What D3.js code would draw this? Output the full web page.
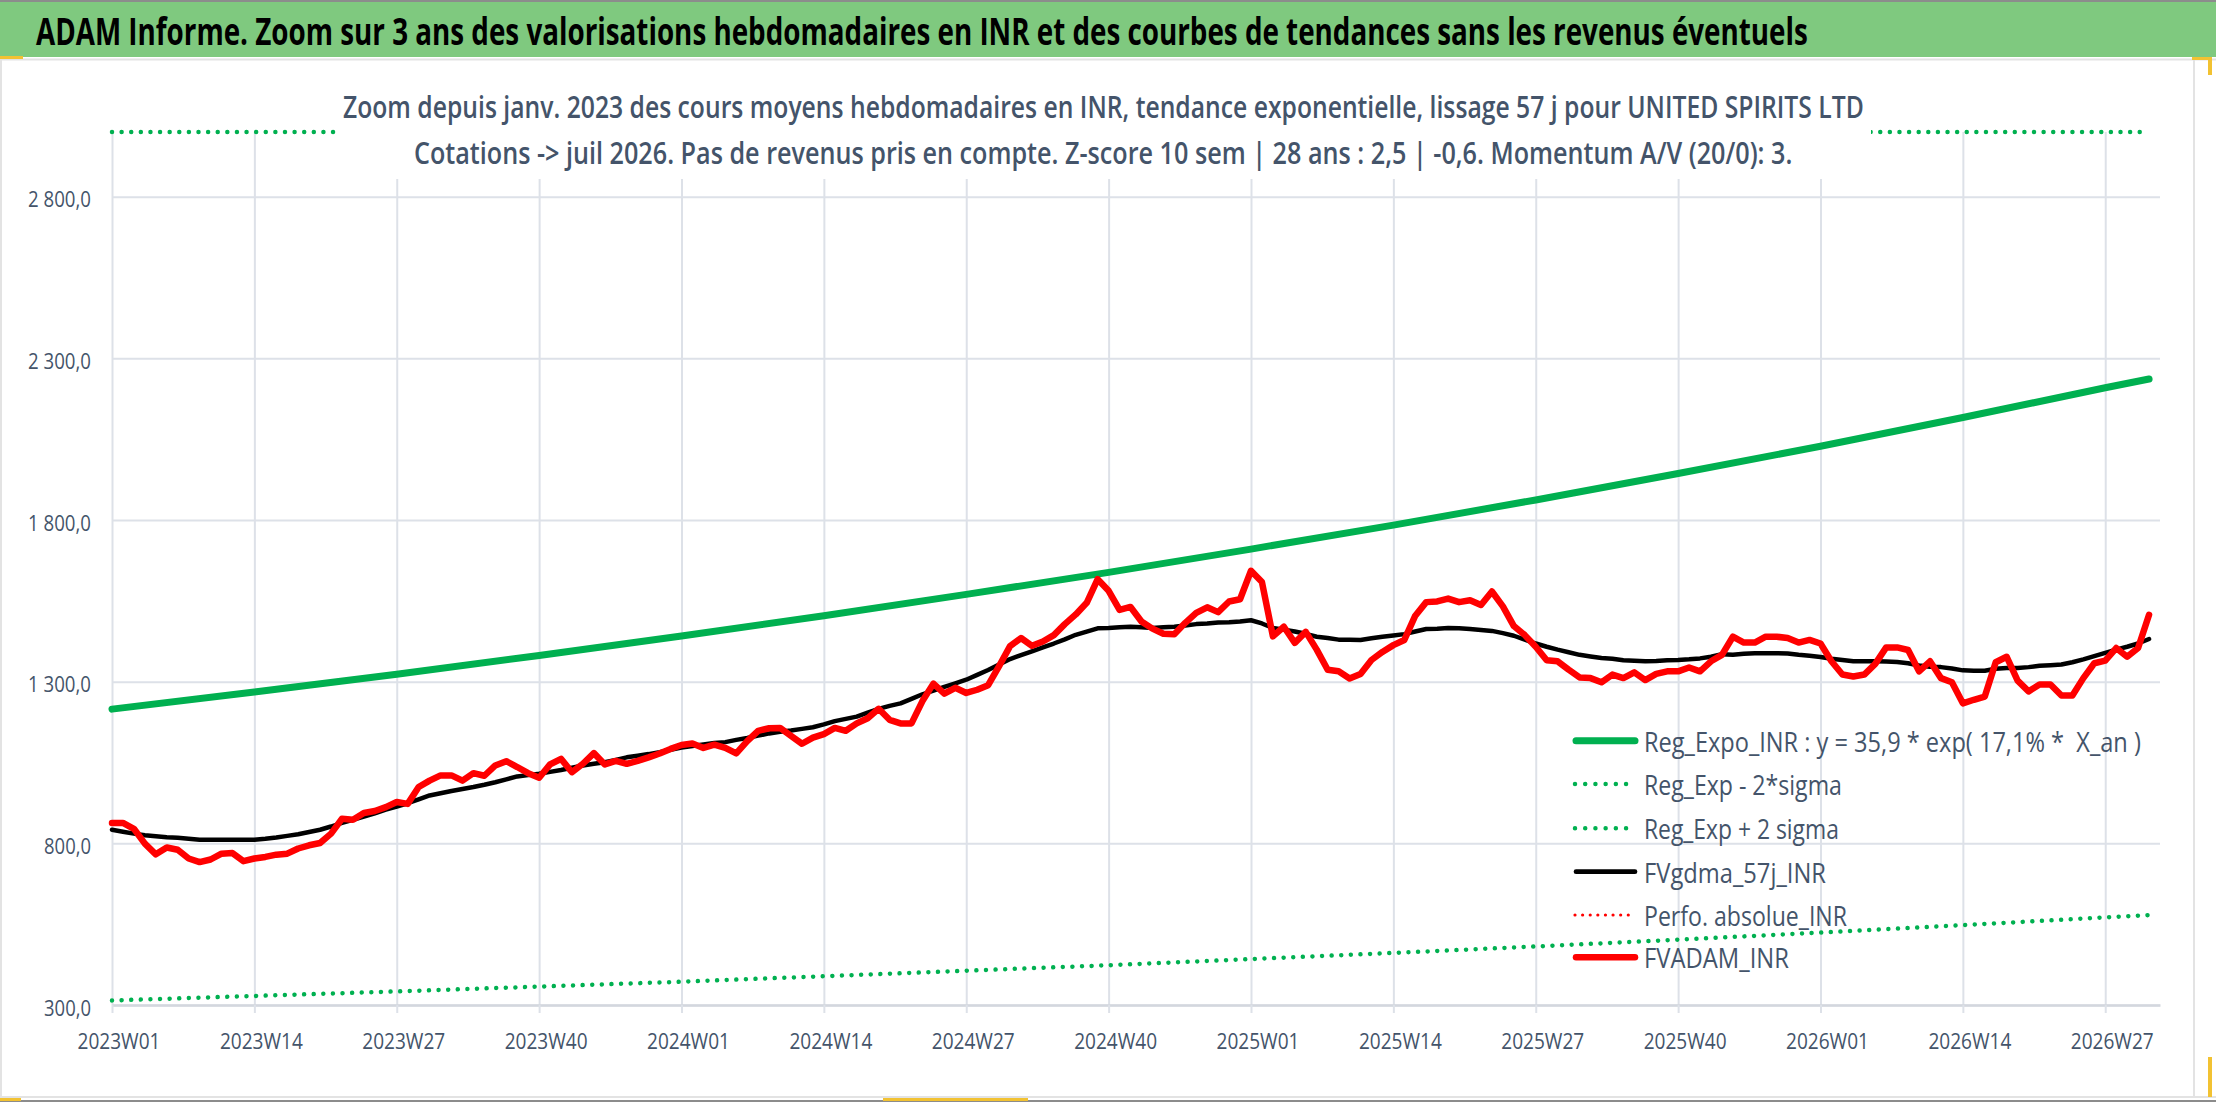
<!DOCTYPE html>
<html>
<head>
<meta charset="utf-8">
<script src="https://cdn.jsdelivr.net/npm/d3@7"></script>
<style>
  body { margin: 0; background: #fff; }
  text { white-space: pre; }
</style>
</head>
<body>
<svg id="chart" width="2216" height="1102"></svg>
<script>
// weekly categories : 2023W01 .. 2026W32
const years = [2023, 2024, 2025, 2026]
const weeksInYear = [52, 52, 52, 32]
const tickLabels = ['2023W01', '2023W14', '2023W27', '2023W40', '2024W01', '2024W14', '2024W27', '2024W40',
  '2025W01', '2025W14', '2025W27', '2025W40', '2026W01', '2026W14', '2026W27']
const yTicks = [300, 800, 1300, 1800, 2300, 2800]

// FVADAM_INR (red), one value per week from 2023W01
const fvadam = [
  863, 863, 845, 799, 766, 787, 780, 753, 742, 750, 768, 770, 745, 753, 758, 765,
  768, 784, 794, 801, 830, 876, 873, 894, 900, 912, 928, 922, 974, 994, 1010, 1010,
  994, 1017, 1009, 1041, 1054, 1036, 1017, 1003, 1044, 1061, 1020, 1046, 1079, 1044, 1055, 1046,
  1055, 1066, 1078, 1092, 1104, 1109, 1095, 1105, 1095, 1078, 1116, 1148, 1156, 1157, 1132, 1108,
  1127, 1138, 1157, 1148, 1171, 1187, 1216, 1182, 1171, 1171, 1240, 1294, 1263, 1281, 1265, 1275,
  1289, 1348, 1410, 1435, 1411, 1424, 1444, 1478, 1508, 1544, 1617, 1581, 1522, 1531, 1486, 1464,
  1448, 1447, 1482, 1513, 1530, 1515, 1548, 1555, 1643, 1608, 1440, 1470, 1420, 1454, 1399, 1337,
  1332, 1310, 1324, 1367, 1392, 1413, 1429, 1504, 1546, 1548, 1557, 1546, 1552, 1537, 1579, 1533,
  1472, 1444, 1408, 1366, 1363, 1337, 1313, 1311, 1298, 1322, 1311, 1329, 1305, 1324, 1332, 1332,
  1344, 1332, 1363, 1383, 1439, 1421, 1421, 1439, 1439, 1435, 1421, 1429, 1418, 1363, 1322, 1316,
  1322, 1355, 1406, 1406, 1398, 1332, 1363, 1311, 1298, 1233, 1244, 1254, 1360, 1377, 1303, 1270,
  1291, 1291, 1257, 1257, 1311, 1357, 1365, 1404, 1377, 1404, 1507
]

// FVgdma_57j_INR (black)
const fvgdma = [
  842, 836, 830, 825, 822, 819, 817, 814, 811, 811, 811, 811, 811, 811, 814, 818,
  823, 828, 835, 842, 852, 863, 873, 883, 893, 904, 914, 924, 936, 948, 955, 962,
  968, 974, 981, 989, 998, 1007, 1011, 1015, 1021, 1027, 1034, 1041, 1046, 1051, 1058, 1066,
  1071, 1076, 1082, 1089, 1096, 1101, 1106, 1110, 1113, 1120, 1126, 1133, 1140, 1145, 1149, 1154,
  1159, 1168, 1178, 1185, 1192, 1204, 1216, 1225, 1233, 1247, 1261, 1272, 1284, 1295, 1306, 1321,
  1336, 1353, 1370, 1382, 1394, 1406, 1418, 1431, 1445, 1455, 1465, 1466, 1468, 1470, 1468, 1466,
  1468, 1470, 1474, 1478, 1480, 1483, 1484, 1486, 1490, 1480, 1466, 1461, 1455, 1448, 1439, 1435,
  1430, 1430, 1429, 1434, 1439, 1443, 1447, 1455, 1463, 1464, 1466, 1465, 1463, 1460, 1457, 1450,
  1442, 1430, 1418, 1408, 1399, 1391, 1383, 1378, 1373, 1371, 1366, 1365, 1363, 1364, 1366, 1367,
  1369, 1372, 1377, 1385, 1383, 1386, 1388, 1388, 1388, 1387, 1383, 1380, 1376, 1371, 1367, 1363,
  1363, 1363, 1362, 1361, 1357, 1350, 1346, 1345, 1341, 1335, 1334, 1334, 1340, 1342, 1342, 1345,
  1349, 1351, 1353, 1360, 1369, 1379, 1389, 1399, 1408, 1418, 1432
]

// regression curves read at the labelled weeks (and the last week)
const regWeeks = [0, 13, 26, 39, 52, 65, 78, 91, 104, 117, 130, 143, 156, 169, 182, 186]
const regExpo = [1215, 1268, 1323, 1381, 1441, 1504, 1570, 1638, 1710, 1784, 1862, 1944, 2028, 2117, 2209, 2236]
const regMinus2 = [314, 328, 342, 357, 372, 389, 406, 423, 442, 461, 481, 502, 524, 547, 571, 578]
const regPlus2 = [4700, 4905, 5118, 5342, 5574, 5818, 6073, 6337, 6615, 6901, 7203, 7520, 7845, 8190, 8545, 8650]
const perfoAbs = []

const legendNames = ['Reg_Expo_INR : y = 35,9 * exp( 17,1% *  X_an )', 'Reg_Exp - 2*sigma', 'Reg_Exp + 2 sigma',
  'FVgdma_57j_INR', 'Perfo. absolue_INR', 'FVADAM_INR']

const title = 'ADAM Informe. Zoom sur 3 ans des valorisations hebdomadaires en INR et des courbes de tendances sans les revenus éventuels'
const sub1 = 'Zoom depuis janv. 2023 des cours moyens hebdomadaires en INR, tendance exponentielle, lissage 57 j pour UNITED SPIRITS LTD'
const sub2 = 'Cotations -> juil 2026. Pas de revenus pris en compte. Z-score 10 sem | 28 ans : 2,5 | -0,6. Momentum A/V (20/0): 3.'

const FONT = "'Open Sans', 'DejaVu Sans', sans-serif"
const TXT = '#44546A'
const GRID = '#DDE1E8'
const GREEN = '#00B050'

let categories = []
years.forEach((yr, i) => {
  for (let w = 1; w <= weeksInYear[i]; w++) categories.push(yr + 'W' + String(w).padStart(2, '0'))
})

// squeeze a text to a given width, font-size already set from the cap height
const fit = (sel, width) => sel.each(function (d, i) {
  const t = d3.select(this)
  const w = typeof width === 'function' ? width(d, i) : width
  const x0 = +t.attr('x') || 0
  const y0 = +t.attr('y') || 0
  const sx = w / this.getComputedTextLength()
  t.attr('x', 0).attr('y', 0).attr('transform', `translate(${x0},${y0}) scale(${sx},1)`)
})

const svg = d3.select('#chart')
const x = d3.scalePoint().domain(categories).range([112, 2160])
const y = d3.scaleLinear().domain([300, 3000]).range([1005, 132])
const fr = d3.formatLocale({ decimal: ',', thousands: ' ', grouping: [3], currency: ['', ''] })
const yFmt = fr.format(',.1f')

// frame
svg.append('rect').attr('width', 2216).attr('height', 1102).attr('fill', '#fff')
svg.append('rect').attr('x', 0).attr('y', 0).attr('width', 2216).attr('height', 57).attr('fill', '#7FC97F')
svg.append('line').attr('x1', 0).attr('x2', 2216).attr('y1', 1).attr('y2', 1).attr('stroke', '#8C8C8C').attr('stroke-width', 2)
svg.append('line').attr('x1', 0).attr('x2', 2216).attr('y1', 59.5).attr('y2', 59.5).attr('stroke', '#E3E3E3').attr('stroke-width', 2)
svg.append('line').attr('x1', 1).attr('x2', 1).attr('y1', 57).attr('y2', 1097).attr('stroke', '#E3E3E3').attr('stroke-width', 2)
svg.append('line').attr('x1', 2194).attr('x2', 2194).attr('y1', 60).attr('y2', 1097).attr('stroke', '#E3E3E3').attr('stroke-width', 2)
svg.append('line').attr('x1', 0).attr('x2', 2216).attr('y1', 1097).attr('y2', 1097).attr('stroke', '#E3E3E3').attr('stroke-width', 2)
svg.append('line').attr('x1', 0).attr('x2', 2216).attr('y1', 1101).attr('y2', 1101).attr('stroke', '#8C8C8C').attr('stroke-width', 2)
const handles = [[0, 56, 23, 3], [2192, 57, 20, 3], [2208, 57, 4, 18], [2208, 1057, 4, 40], [0, 1098, 21, 3], [883, 1098, 145, 3]]
svg.selectAll('.handle').data(handles).join('rect').attr('class', 'handle')
  .attr('x', d => d[0]).attr('y', d => d[1]).attr('width', d => d[2]).attr('height', d => d[3]).attr('fill', '#F2C232')

// gridlines
svg.append('g').attr('transform', 'translate(112,0)')
  .call(d3.axisLeft(y).tickValues(yTicks).tickSize(-(2160 - 112)).tickFormat(''))
  .call(g => g.select('.domain').remove())
  .call(g => g.selectAll('line').attr('stroke', GRID).attr('stroke-width', 2))
svg.append('g').attr('transform', 'translate(0,1005)')
  .call(d3.axisBottom(x).tickValues(tickLabels).tickSize(-(1005 - 132)).tickFormat(''))
  .call(g => g.select('.domain').remove())
  .call(g => g.selectAll('line').attr('stroke', GRID).attr('stroke-width', 2))

// x axis : tick marks and labels
svg.append('g').attr('transform', 'translate(0,1005)')
  .call(d3.axisBottom(x).tickValues(tickLabels).tickSizeInner(8).tickSizeOuter(0))
  .call(g => g.select('.domain').attr('stroke', '#D3D7DE').attr('stroke-width', 2.5))
  .call(g => g.selectAll('line').attr('stroke', GRID).attr('stroke-width', 2))
  .call(g => g.selectAll('text').attr('dy', null).attr('y', 44).attr('x', 6.5)
    .attr('font-family', FONT).attr('font-size', 22.5).attr('fill', TXT)
    .call(fit, 83))

// y axis labels
svg.append('g').attr('transform', 'translate(112,0)')
  .call(d3.axisLeft(y).tickValues(yTicks).tickSize(0).tickPadding(21).tickFormat(yFmt))
  .call(g => g.select('.domain').remove())
  .call(g => g.selectAll('text').attr('dy', null).attr('y', 10)
    .attr('font-family', FONT).attr('font-size', 22.5).attr('fill', TXT)
    .call(fit, d => d >= 1000 ? 63 : 47))

// series
const weekLine = d3.line().x((d, i) => x(categories[i])).y(d => y(d))
const regLine = d3.line().x((d, i) => x(categories[regWeeks[i]])).y(d => y(Math.min(d, 3000)))

svg.append('path').datum(regExpo).attr('d', regLine)
  .attr('fill', 'none').attr('stroke', GREEN).attr('stroke-width', 7).attr('stroke-linecap', 'round')
svg.append('path').datum(regMinus2).attr('d', regLine)
  .attr('fill', 'none').attr('stroke', GREEN).attr('stroke-width', 4.5)
  .attr('stroke-dasharray', '0.01 9.6').attr('stroke-linecap', 'round')
svg.append('path').datum(regPlus2).attr('d', regLine)
  .attr('fill', 'none').attr('stroke', GREEN).attr('stroke-width', 4.5)
  .attr('stroke-dasharray', '0.01 9.6').attr('stroke-linecap', 'round')
svg.append('path').datum(fvgdma).attr('d', weekLine)
  .attr('fill', 'none').attr('stroke', '#000').attr('stroke-width', 4.5)
  .attr('stroke-linejoin', 'round').attr('stroke-linecap', 'round')
if (perfoAbs.length) {
  svg.append('path').datum(perfoAbs).attr('d', weekLine)
    .attr('fill', 'none').attr('stroke', '#FF0000').attr('stroke-width', 3).attr('stroke-dasharray', '0.01 7.5').attr('stroke-linecap', 'round')
}
svg.append('path').datum(fvadam).attr('d', weekLine)
  .attr('fill', 'none').attr('stroke', '#FF0000').attr('stroke-width', 6.5)
  .attr('stroke-linejoin', 'round').attr('stroke-linecap', 'round')

// chart title box (hides what is behind it)
svg.append('rect').attr('x', 336).attr('y', 72).attr('width', 1871 - 336).attr('height', 179 - 72).attr('fill', '#fff')
svg.append('text').text(sub1).attr('x', 343).attr('y', 118)
  .attr('font-family', FONT).attr('font-weight', 600).attr('font-size', 30.5).attr('fill', TXT)
  .call(fit, 1521)
svg.append('text').text(sub2).attr('x', 414).attr('y', 164)
  .attr('font-family', FONT).attr('font-weight', 600).attr('font-size', 30.5).attr('fill', TXT)
  .call(fit, 1379)

// banner title
svg.append('text').text(title).attr('x', 36).attr('y', 45)
  .attr('font-family', FONT).attr('font-weight', 'bold').attr('font-size', 37).attr('fill', '#000')
  .call(fit, 1772)

// legend
const legendY = [740.7, 784, 828.3, 871.7, 915, 957.3]
const legendW = [497, 198, 195, 182, 203, 145]
const legendStyle = [
  { c: GREEN, w: 7, dash: null },
  { c: GREEN, w: 4.5, dash: '0.01 10.2' },
  { c: GREEN, w: 4.5, dash: '0.01 10.2' },
  { c: '#000', w: 4.7, dash: null },
  { c: '#FF0000', w: 3.2, dash: '0.01 7.6' },
  { c: '#FF0000', w: 6.5, dash: null }
]
const leg = svg.append('g')
leg.selectAll('line').data(legendNames).join('line')
  .attr('x1', (d, i) => legendStyle[i].dash ? 1575 : 1576).attr('x2', 1635)
  .attr('y1', (d, i) => legendY[i]).attr('y2', (d, i) => legendY[i])
  .attr('stroke', (d, i) => legendStyle[i].c).attr('stroke-width', (d, i) => legendStyle[i].w)
  .attr('stroke-dasharray', (d, i) => legendStyle[i].dash).attr('stroke-linecap', 'round')
leg.selectAll('text').data(legendNames).join('text')
  .text(d => d).attr('x', 1644).attr('y', (d, i) => legendY[i] + 11)
  .attr('font-family', FONT).attr('font-size', 28).attr('fill', TXT)
  .call(fit, (d, i) => legendW[i])
</script>
</body>
</html>
